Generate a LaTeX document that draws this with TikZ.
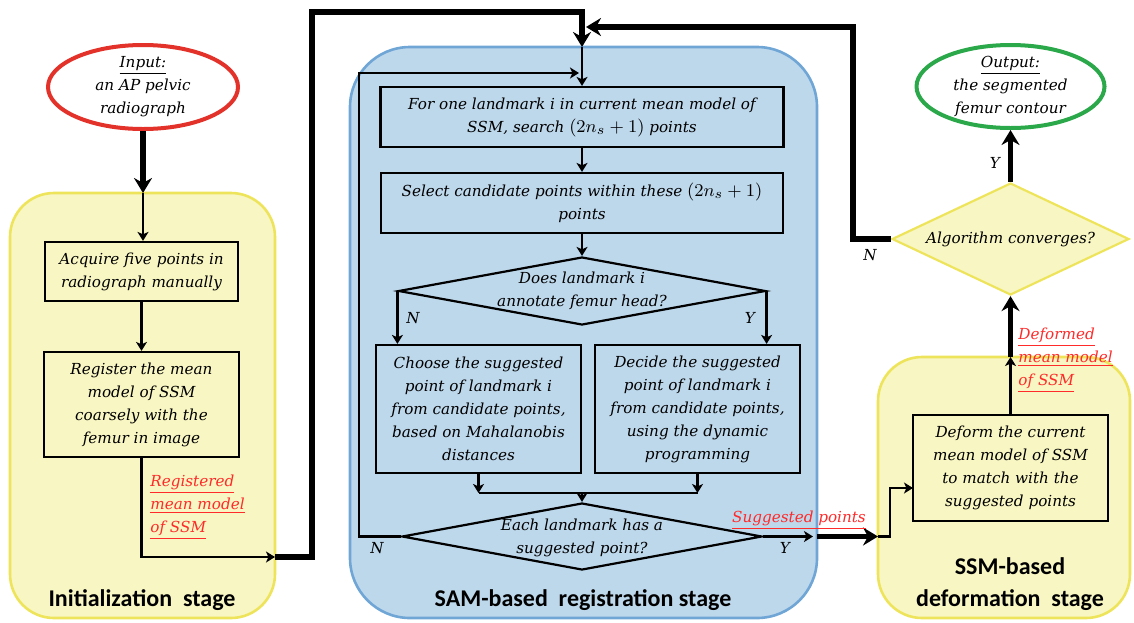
\documentclass[tikz,border=0pt]{standalone}
\usepackage{fontspec}
\setmainfont{DejaVu Serif}
\newfontfamily\stagefont{Carlito}
\usepackage{tikz}
\usetikzlibrary{arrows.meta,shapes.geometric}
\definecolor{StageYellow}{HTML}{F8F6C2}
\definecolor{StageYellowLine}{HTML}{EEE45C}
\definecolor{StageBlue}{HTML}{BDD7EB}
\definecolor{StageBlueLine}{HTML}{6FA6D6}
\definecolor{InRed}{HTML}{E2322A}
\definecolor{OutGreen}{HTML}{2AA84A}
\definecolor{NoteRed}{HTML}{FF2A2A}
\newcommand{\nsrange}{{\fontsize{9.5}{11.5}\selectfont$(2n_s+1)$}}

\begin{document}
\begin{tikzpicture}[x=0.5pt,y=-0.5pt,
  txt/.style={font=\fontsize{7.6}{11.5}\selectfont\itshape, align=center, inner sep=0pt},
  box/.style={txt, draw, line width=1.1pt},
  dia/.style={diamond, draw, line width=1.1pt, inner sep=0pt},
  note/.style={txt, text=NoteRed, align=left},
  stagelbl/.style={font=\stagefont\fontsize{12}{16}\selectfont\bfseries, align=center, inner sep=0pt},
  link/.style={line width=1.3pt, -{Stealth[length=4.5pt,width=5.5pt,inset=1.2pt]}},
  biglink/.style={line width=2.8pt, -{Stealth[length=7.5pt,width=9pt,inset=2.5pt]}}]
\useasboundingbox (0,0) rectangle (1134,622);
%
\draw[line width=1.3pt, StageYellowLine, fill=StageYellow, rounded corners=22pt] (10,193) rectangle (275,618);
\draw[line width=1.3pt, StageBlueLine, fill=StageBlue, rounded corners=30pt] (350,47) rectangle (817,618);
\draw[line width=1.3pt, StageYellowLine, fill=StageYellow, rounded corners=22pt] (878,357) rectangle (1130,618);
\node[stagelbl] (initlbl) at (142,600) {Initialization\ \ stage};
\node[stagelbl] (samlbl) at (583,600) {SAM-based\ \ registration stage};
\node[stagelbl] (ssmlbl) at (1010,584) {SSM-based\\deformation\ \ stage};
%
\node[ellipse, draw=InRed, line width=2pt, fill=white, minimum width=95pt, minimum height=42pt] (inp) at (143,87) {};
\node[txt] (inpt) at (inp) {\underline{Input:}\\an AP pelvic\\radiograph};
\node[ellipse, draw=OutGreen, line width=2pt, fill=white, minimum width=94pt, minimum height=41.5pt] (out) at (1010.5,86.5) {};
\node[txt] (outt) at (out) {\underline{Output:}\\the segmented\\femur contour};
%
\node[box, minimum width=96.5pt, minimum height=29.5pt] (acq) at (141.5,271.5) {Acquire five points in\\radiograph manually};
\node[box, minimum width=97.5pt, minimum height=52.5pt] (reg) at (141.5,404.5) {Register the mean\\model of SSM\\coarsely with the\\femur in image};
%
\node[box, minimum width=201.5pt, minimum height=30pt] (search) at (582,117) {For one landmark i in current mean model of\\SSM, search \nsrange{} points};
\node[box, minimum width=201pt, minimum height=30pt] (select) at (582,203) {Select candidate points within these \nsrange\\points};
\node[dia, minimum width=183.5pt, minimum height=34pt] (dhead) at (582,291) {};
\node[txt] (dheadt) at (dhead) {Does landmark i\\annotate femur head?};
\node[box, minimum width=102.5pt, minimum height=64pt] (choose) at (478.5,409) {Choose the suggested\\point of landmark i\\from candidate points,\\based on Mahalanobis\\distances};
\node[box, minimum width=102.5pt, minimum height=64pt] (decide) at (697.5,409) {Decide the suggested\\point of landmark i\\from candidate points,\\using the dynamic\\programming};
\node[dia, minimum width=180pt, minimum height=33.5pt] (dall) at (582,536.5) {};
\node[txt] (dallt) at (582,538) {Each landmark has a\\suggested point?};
%
\node[box, minimum width=97.5pt, minimum height=53pt] (deform) at (1010.5,468) {Deform the current\\mean model of SSM\\to match with the\\suggested points};
\node[dia, draw=StageYellowLine, fill=StageYellow, minimum width=118.5pt, minimum height=56pt] (conv) at (1010.5,239) {};
\node[txt] (convt) at (conv) {Algorithm converges?};
%
\coordinate (ltop) at (143,193);
\coordinate (lout) at (275,557);
\coordinate (lcorner) at (312,12);
\coordinate (btop) at (582,47);
\coordinate (lpin) at (579,73);
\coordinate (loopL) at (359,73);
\coordinate (mc) at (478.5,493);
\coordinate (md) at (697.5,493);
\coordinate (mm) at (582,493);
\coordinate (sp1) at (813,536.5);
\coordinate (sp2) at (817,536.5);
\coordinate (rin) at (878,536.5);
\coordinate (dfin) at (913,488);
\coordinate (rtop) at (1010.5,357);
\coordinate (rcorner) at (853,27);
\coordinate (rpin) at (586,27);
%
\draw[biglink] (inp) -- (ltop);
\draw[link] (ltop) -- (ltop |- acq.north);
\draw[link] (acq) -- (reg);
\draw[link] (reg.south) |- (lout);
\draw[biglink] (lout) -| (lcorner) -| (btop);
\draw[link] (btop) -- (search);
\draw[link] (search) -- (select);
\draw[link] (select) -- (dhead);
\draw[link] (dhead.west) -- (dhead.west |- choose.north);
\draw[link] (dhead.east) -- (dhead.east |- decide.north);
\draw[link] (choose) -- (mc);
\draw[link] (decide) -- (md);
\draw[line width=1.3pt] (mc) -- (md);
\draw[link] (mm) -- (dall);
\draw[link] (dall.west) -| (loopL) -- (lpin);
\draw[link] (dall.east) -- (sp1);
\draw[biglink] (sp2) -- (rin);
\draw[link] (rin) -- ++(12,0) |- (dfin);
\draw[link] (deform) -- (rtop);
\draw[biglink] (rtop) -- (conv);
\draw[biglink] (conv) -- (out);
\draw[biglink] (conv.west) -| (rcorner) -- (rpin);
%
\node[txt] (n1) at (413,318) {N};
\node[txt] (y1) at (750,318) {Y};
\node[txt] (n2) at (377,548) {N};
\node[txt] (y2) at (785,548) {Y};
\node[txt] (n3) at (870,255) {N};
\node[txt] (y3) at (995,163) {Y};
%
\node[note, anchor=west] (regnote) at (150,507) {\underline{Registered}\\\underline{mean model}\\\underline{of SSM}};
\node[note] (sugnote) at (799,520) {\underline{Suggested points}};
\node[note, anchor=west] (defnote) at (1018,360) {\underline{Deformed}\\\underline{mean model}\\\underline{of SSM}};
\end{tikzpicture}
\end{document}
